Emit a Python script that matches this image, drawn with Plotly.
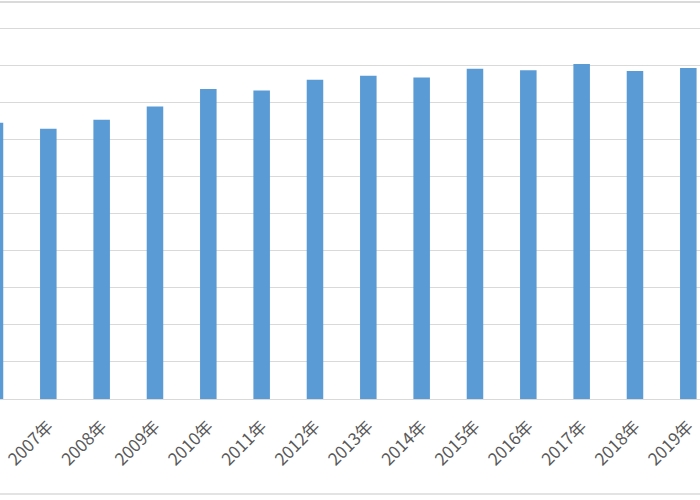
import plotly.graph_objects as go

years = ["2006年", "2007年", "2008年", "2009年", "2010年", "2011年", "2012年", "2013年",
         "2014年", "2015年", "2016年", "2017年", "2018年", "2019年", "2020年"]
values = [7.46, 7.30, 7.54, 7.90, 8.37, 8.33, 8.62, 8.73, 8.68, 8.92, 8.88, 9.05, 8.86, 8.94, 8.90]
y_ticks = list(range(0, 11))

PLOT_BOTTOM = 399
PLOT_H = 374

fig = go.Figure()
fig.add_trace(go.Bar(
    x=list(range(len(years))),
    y=values,
    marker=dict(color="#5B9BD5", line=dict(width=0)),
    width=0.31,
    showlegend=False,
))

fig.update_layout(
    width=700,
    height=500,
    margin=dict(l=0, r=0, t=500 - 101 - PLOT_H, b=101, autoexpand=False),
    paper_bgcolor="white",
    plot_bgcolor="white",
    font=dict(family="Noto Sans CJK SC", color="#595959", size=17),
    xaxis=dict(
        tickmode="array",
        tickvals=list(range(len(years))),
        ticktext=years,
        range=[0.094, 13.219],
        tickangle=-45,
        showgrid=False,
        zeroline=False,
        showline=True,
        linecolor="#D9D9D9",
        linewidth=1,
        ticks="",
        ticklabelstandoff=10,
        automargin=False,
        tickfont=dict(size=17, color="#595959"),
    ),
    yaxis=dict(
        range=[0, 10.1],
        tickvals=y_ticks,
        showticklabels=False,
        showgrid=True,
        gridcolor="#D9D9D9",
        gridwidth=1,
        zeroline=False,
        showline=False,
        ticks="",
    ),
    shapes=[
        dict(type="line", xref="paper", yref="paper", x0=0, x1=1,
             y0=(PLOT_BOTTOM - 2) / PLOT_H, y1=(PLOT_BOTTOM - 2) / PLOT_H,
             line=dict(color="#DADADA", width=2)),
        dict(type="line", xref="paper", yref="paper", x0=0, x1=1,
             y0=(PLOT_BOTTOM - 494) / PLOT_H, y1=(PLOT_BOTTOM - 494) / PLOT_H,
             line=dict(color="#E3E3E3", width=2)),
    ],
)

fig.write_html("out.html", config={"displayModeBar": False},
               post_script="document.body.style.margin='0';")
